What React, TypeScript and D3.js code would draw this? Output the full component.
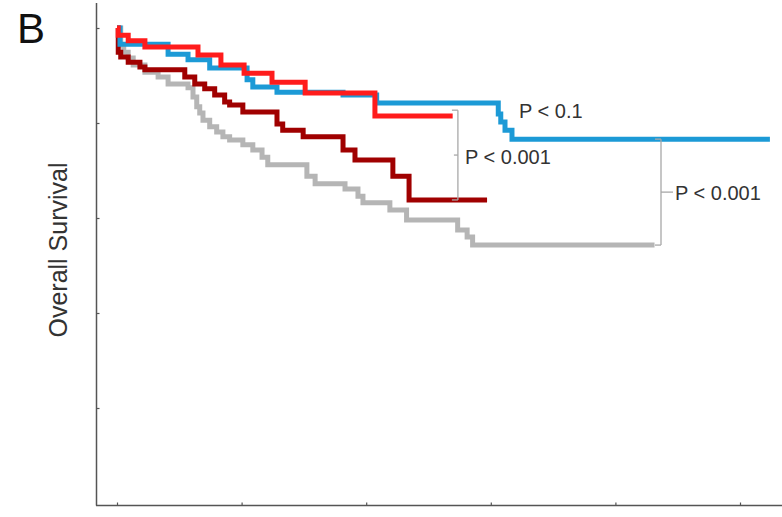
import { useEffect, useRef } from 'react'
import * as d3 from 'd3'

const W = 782
const H = 517

// Kaplan–Meier steps: day of the event and survival right after it
const grayDays = [0, 15, 27, 45, 65, 112, 165, 205, 285, 305, 320, 332, 345, 372, 400, 425, 452, 505, 545, 582, 605, 762, 795, 915, 967, 987, 1095, 1162, 1367, 1405, 1427]
const graySurv = [1.0, 0.964, 0.949, 0.937, 0.922, 0.907, 0.897, 0.882, 0.874, 0.855, 0.834, 0.821, 0.806, 0.792, 0.781, 0.771, 0.764, 0.754, 0.743, 0.728, 0.712, 0.688, 0.672, 0.661, 0.646, 0.632, 0.617, 0.596, 0.575, 0.56, 0.543]
const grayEnd = 2157

const darkDays = [0, 5, 15, 45, 92, 112, 272, 312, 352, 392, 432, 452, 505, 642, 665, 747, 907, 955, 1107, 1172]
const darkSurv = [1.0, 0.949, 0.939, 0.928, 0.918, 0.912, 0.897, 0.882, 0.872, 0.859, 0.844, 0.838, 0.823, 0.798, 0.785, 0.771, 0.743, 0.722, 0.688, 0.638]
const darkEnd = 1485

const blueDays = [0, 12, 205, 285, 372, 522, 545, 642, 907, 1042, 1530, 1540, 1557, 1585]
const blueSurv = [1.0, 0.966, 0.945, 0.933, 0.916, 0.891, 0.876, 0.865, 0.859, 0.842, 0.819, 0.802, 0.785, 0.766]
const blueEnd = 2620

const redDays = [0, 5, 45, 112, 325, 417, 510, 622, 755, 1035]
const redSurv = [1.0, 0.985, 0.973, 0.96, 0.943, 0.922, 0.905, 0.886, 0.863, 0.815]
const redEnd = 1347

const xTicks = [0, 500, 1000, 1500, 2000, 2500]
const yTicks = [0.2, 0.4, 0.6, 0.8, 1.0]
const pLabels = ['P < 0.1', 'P < 0.001', 'P < 0.001']

const FONT = 'Liberation Sans, Arial, sans-serif'

export default function App() {
  const svgRef = useRef<SVGSVGElement>(null)

  useEffect(() => {
    if (!svgRef.current) return
    const svg = d3.select(svgRef.current)
    svg.selectAll('*').remove()

    const x = d3.scaleLinear().domain([0, 2500]).range([117, 740])
    const y = d3.scaleLinear().domain([0, 1]).range([503, 28])

    const series = [
      { days: grayDays, surv: graySurv, end: grayEnd, color: '#b5b5b5' },
      { days: darkDays, surv: darkSurv, end: darkEnd, color: '#a00000' },
      { days: blueDays, surv: blueSurv, end: blueEnd, color: '#1c9ad6' },
      { days: redDays, surv: redSurv, end: redEnd, color: '#ff1c1c' },
    ]

    const line = d3.line<[number, number]>()
      .x(d => x(d[0]))
      .y(d => y(d[1]))
      .curve(d3.curveStepAfter)

    // Axes
    const axisColor = '#555'
    svg.append('line')
      .attr('x1', 96.5).attr('x2', 96.5).attr('y1', 3).attr('y2', 505.5)
      .attr('stroke', axisColor).attr('stroke-width', 1.5)
    svg.append('line')
      .attr('x1', 96).attr('x2', W).attr('y1', 505.5).attr('y2', 505.5)
      .attr('stroke', axisColor).attr('stroke-width', 1.5)

    const yAxis = svg.append('g').attr('transform', 'translate(96.5,0)')
      .call(d3.axisRight(y).tickValues(yTicks).tickSize(3).tickFormat(() => ''))
    yAxis.select('.domain').remove()
    yAxis.selectAll('.tick line').attr('stroke', axisColor).attr('stroke-width', 1.2)

    const xAxis = svg.append('g').attr('transform', 'translate(0,505.5)')
      .call(d3.axisTop(x).tickValues(xTicks).tickSize(3).tickFormat(() => ''))
    xAxis.select('.domain').remove()
    xAxis.selectAll('.tick line').attr('stroke', axisColor).attr('stroke-width', 1.2)

    // tick labels sit mostly below the visible frame, as in the source image
    svg.append('g').selectAll('text')
      .data(xTicks)
      .join('text')
      .attr('x', d => x(d)).attr('y', 531)
      .attr('text-anchor', 'middle')
      .attr('font-family', FONT).attr('font-size', 20).attr('fill', '#999')
      .text(d => String(d))

    // Survival curves
    series.forEach(s => {
      const pts: [number, number][] = s.days.map((d, i) => [d, s.surv[i]])
      pts.push([s.end, s.surv[s.surv.length - 1]])
      svg.append('path')
        .attr('d', line(pts))
        .attr('fill', 'none')
        .attr('stroke', s.color)
        .attr('stroke-width', 5)
        .attr('stroke-linejoin', 'miter')
    })

    // Significance brackets
    const bc = '#a8a8a8'
    const bracket = (day: number, top: number, bottom: number, midDir: number, midLen: number) => {
      const bx = x(day)
      const y1 = y(top)
      const y2 = y(bottom)
      const g = svg.append('g').attr('stroke', bc).attr('stroke-width', 1.3).attr('fill', 'none')
      g.append('line').attr('x1', bx).attr('x2', bx).attr('y1', y1).attr('y2', y2)
      g.append('line').attr('x1', bx - 6).attr('x2', bx).attr('y1', y1).attr('y2', y1)
      g.append('line').attr('x1', bx - 6).attr('x2', bx).attr('y1', y2).attr('y2', y2)
      const ym = (y1 + y2) / 2
      g.append('line').attr('x1', bx).attr('x2', bx + midDir * midLen).attr('y1', ym).attr('y2', ym)
      return ym
    }

    const m1 = bracket(1368, 0.827, 0.638, -1, 4)
    const m2 = bracket(2183, blueSurv[blueSurv.length - 1], graySurv[graySurv.length - 1], 1, 12)

    const label = (tx: number, ty: number, t: string) =>
      svg.append('text')
        .attr('x', tx).attr('y', ty)
        .attr('dominant-baseline', 'central')
        .attr('font-family', FONT).attr('font-size', 20).attr('fill', '#333')
        .text(t)

    label(519, 111, pLabels[0])
    label(465, m1 + 2, pLabels[1])
    label(675, m2 + 1, pLabels[2])

    // Panel letter and y label
    svg.append('text')
      .attr('x', 17).attr('y', 43)
      .attr('font-family', FONT).attr('font-size', 42).attr('fill', '#111')
      .text('B')

    svg.append('text')
      .attr('transform', 'translate(67,250) rotate(-90)')
      .attr('text-anchor', 'middle')
      .attr('font-family', FONT).attr('font-size', 25).attr('fill', '#333')
      .text('Overall Survival')
  }, [])

  return (
    <div style={{ position: 'fixed', left: 0, top: 0, width: W, height: H, background: '#fff' }}>
      <svg ref={svgRef} width={W} height={H} style={{ display: 'block' }} />
    </div>
  )
}
